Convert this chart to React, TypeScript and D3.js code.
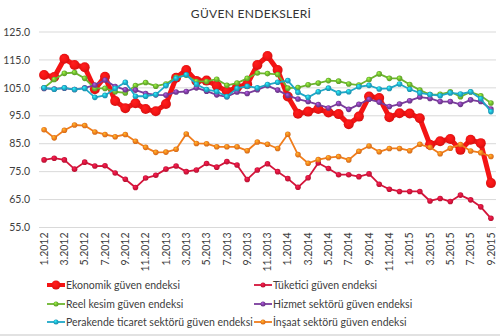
import React from "react";
import * as d3 from "d3";

const months: string[] = [];
for (let y = 2012; y <= 2015; y++) {
  for (let m = 1; m <= 12; m++) {
    if (y === 2015 && m > 9) break;
    months.push(`${m}.${y}`);
  }
}

const yTicks = [55, 65, 75, 85, 95, 105, 115, 125];

const ekonomik = [109.6, 108.9, 115.4, 113.2, 112.4, 104.5, 109.0, 100.3, 97.7, 99.5, 97.4, 96.6, 99.2, 108.6, 111.4, 107.5, 107.6, 105.8, 103.7, 105.2, 106.3, 113.2, 116.4, 111.4, 101.9, 95.7, 96.5, 97.4, 96.2, 95.6, 92.0, 94.7, 101.9, 101.4, 94.5, 95.9, 95.8, 94.1, 84.6, 85.9, 86.7, 82.8, 86.4, 85.2, 70.9];
const tuketici = [79.2, 79.8, 79.2, 75.9, 78.4, 77.0, 77.1, 74.5, 72.3, 69.3, 72.7, 73.7, 75.9, 77.0, 75.0, 75.6, 77.9, 76.6, 78.6, 77.4, 72.2, 75.6, 77.8, 75.0, 72.5, 69.4, 72.8, 78.1, 76.1, 73.9, 73.9, 73.2, 74.2, 70.5, 68.7, 67.9, 67.9, 67.9, 64.5, 65.4, 64.3, 66.6, 64.9, 62.4, 58.3];
const reel = [105.0, 108.0, 110.2, 110.5, 108.4, 104.8, 104.8, 103.6, 103.2, 105.8, 106.9, 105.6, 106.4, 108.8, 109.5, 107.3, 107.3, 108.1, 105.9, 106.7, 108.4, 110.3, 110.1, 109.8, 104.9, 105.1, 106.1, 106.7, 107.6, 107.4, 106.4, 106.0, 108.0, 110.0, 108.4, 108.4, 106.2, 104.2, 102.6, 102.7, 103.6, 101.8, 103.5, 102.2, 99.6];
const hizmet = [104.8, 104.6, 104.9, 104.4, 105.0, 106.0, 107.8, 105.5, 104.3, 104.2, 103.0, 102.5, 102.4, 103.5, 103.7, 105.0, 103.8, 102.5, 101.8, 103.5, 103.0, 104.3, 105.8, 104.2, 102.3, 101.0, 100.1, 99.0, 97.8, 99.4, 97.3, 99.1, 100.9, 99.9, 98.3, 99.2, 100.4, 101.7, 101.2, 100.1, 100.1, 99.1, 100.7, 100.1, 97.4];
const perakende = [105.0, 104.5, 105.0, 104.4, 104.8, 101.6, 102.3, 104.8, 107.0, 102.0, 102.0, 102.6, 105.8, 108.4, 109.7, 106.3, 104.4, 103.7, 101.9, 104.8, 105.6, 105.0, 106.2, 107.0, 107.6, 103.4, 101.6, 103.6, 104.9, 103.2, 103.6, 105.4, 105.9, 104.6, 104.8, 106.4, 104.5, 103.2, 102.6, 102.2, 103.2, 102.8, 103.6, 101.1, 96.5];
const insaat = [90.0, 87.1, 89.8, 91.7, 91.5, 89.2, 88.3, 87.5, 88.3, 85.9, 83.7, 81.9, 82.0, 83.0, 88.5, 85.1, 85.0, 83.9, 83.9, 83.9, 82.5, 85.6, 84.8, 83.3, 88.4, 81.1, 78.0, 79.3, 80.0, 80.4, 79.2, 82.3, 84.2, 82.1, 83.3, 83.3, 82.5, 84.8, 83.7, 81.4, 83.4, 84.7, 82.4, 81.8, 80.4];

const seriesNames = [
  "Ekonomik güven endeksi",
  "Tüketici güven endeksi",
  "Reel kesim güven endeksi",
  "Hizmet sektörü güven endeksi",
  "Perakende ticaret sektörü güven endeksi",
  "İnşaat sektörü güven endeksi",
];
const seriesValues = [ekonomik, tuketici, reel, hizmet, perakende, insaat];
const seriesColors = ["#f41414", "#d4143a", "#6cb52e", "#7a3c9c", "#1ea8c8", "#f07d1c"];
const lineWidths = [5, 1.8, 1.8, 1.8, 1.8, 1.8];
const markerR = [5, 2.8, 2.8, 2.8, 2.8, 2.8];

const W = 500;
const H = 336;
const plotLeft = 39;
const plotRight = 496;
const plotTop = 32;
const plotBottom = 227.5;

export default function App() {
  const x = d3.scalePoint<string>().domain(months).range([plotLeft, plotRight]).padding(0.5);
  const y = d3.scaleLinear().domain([55, 125]).range([plotBottom, plotTop]);
  const line = d3
    .line<number>()
    .x((_, i) => x(months[i]) as number)
    .y((d) => y(d));

  const legendPos = [
    [47, 285],
    [254, 285],
    [47, 304],
    [254, 304],
    [47, 322],
    [254, 322],
  ];

  return (
    <svg
      width={W}
      height={H}
      style={{ position: "absolute", left: 0, top: 0, background: "#fff" }}
      fontFamily="Lato, 'Open Sans', sans-serif"
    >
      <defs>
        {seriesColors.map((c, i) => (
          <radialGradient key={i} id={`g${i}`} cx="0.5" cy="0.5" r="0.6" fx="0.35" fy="0.3">
            <stop offset="0%" stopColor={d3.color(c)!.brighter(1.2).formatHex()} />
            <stop offset="55%" stopColor={c} />
            <stop offset="100%" stopColor={d3.color(c)!.darker(0.6).formatHex()} />
          </radialGradient>
        ))}
      </defs>
      <text x={251} y={18} textAnchor="middle" fontSize={12} fill="#333" letterSpacing={0.3}>
        GÜVEN ENDEKSLERİ
      </text>
      {yTicks.map((t) => (
        <g key={t}>
          <line x1={plotLeft} x2={plotRight} y1={y(t)} y2={y(t)} stroke="#d9d9d9" strokeWidth={1} />
          <text x={30} y={y(t)} dy="0.35em" textAnchor="end" fontSize={10.5} fill="#404040">
            {t.toFixed(1)}
          </text>
        </g>
      ))}
      {months.map((m, i) =>
        i % 2 === 0 ? (
          <text
            key={m}
            transform={`translate(${x(m)},${plotBottom + 5}) rotate(-90)`}
            textAnchor="end"
            dy="0.35em"
            fontSize={10.5}
            fill="#404040"
          >
            {m}
          </text>
        ) : null
      )}
      {seriesValues.map((vals, s) => (
        <g key={s}>
          <path d={line(vals) || ""} fill="none" stroke={seriesColors[s]} strokeWidth={lineWidths[s]} strokeLinejoin="round" />
          {vals.map((v, i) => (
            <circle key={i} cx={x(months[i])} cy={y(v)} r={markerR[s]} fill={`url(#g${s})`} />
          ))}
        </g>
      ))}
      {seriesNames.map((n, s) => {
        const [lx, ly] = legendPos[s];
        return (
          <g key={n}>
            <line x1={lx} x2={lx + 18} y1={ly} y2={ly} stroke={seriesColors[s]} strokeWidth={s === 0 ? 4 : 1.8} />
            <circle cx={lx + 9} cy={ly} r={s === 0 ? 4.5 : 2.5} fill={`url(#g${s})`} />
            <text x={lx + 19} y={ly} dy="0.35em" fontSize={10.5} fill="#404040">
              {n}
            </text>
          </g>
        );
      })}
      <line x1={0} x2={W} y1={335} y2={335} stroke="#d9d9d9" strokeWidth={1.5} />
    </svg>
  );
}
